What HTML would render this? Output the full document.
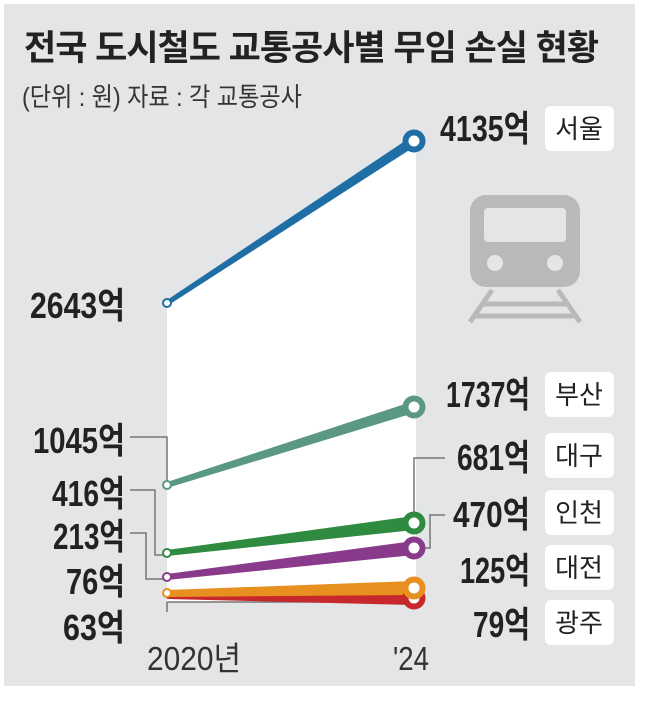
<!DOCTYPE html>
<html><head><meta charset="utf-8"><style>
body{margin:0;background:#fff;}
svg{display:block;}
text{font-family:"Liberation Sans","Noto Sans CJK KR",sans-serif;fill:#222;}
.n{font-size:36px;font-weight:bold;}
.t{font-size:26px;}
</style></head><body>
<svg width="650" height="704" viewBox="0 0 650 704" xmlns="http://www.w3.org/2000/svg">
<rect x="4" y="4" width="631" height="682" fill="#e4e5e7"/>
<polygon points="167,303 414,141 416,141 416,602 167,602" fill="#fff"/>
<text x="24" y="60" style="font-size:35px;font-weight:bold;letter-spacing:-1px">전국 도시철도 교통공사별 무임 손실 현황</text>
<text x="22" y="106" textLength="280" lengthAdjust="spacingAndGlyphs" style="font-size:26px;fill:#333">(단위 : 원)  자료 : 각 교통공사</text>
<g fill="#b9b9bb">
<rect x="470" y="195" width="110" height="92" rx="16"/>
</g>
<rect x="484" y="208" width="82" height="34" rx="4" fill="#e4e5e7"/>
<circle cx="495" cy="263" r="8" fill="#e4e5e7"/>
<circle cx="555" cy="263" r="8" fill="#e4e5e7"/>
<g stroke="#b9b9bb" stroke-width="5" fill="none">
<line x1="492" y1="290" x2="470" y2="322"/>
<line x1="558" y1="290" x2="580" y2="322"/>
<line x1="482" y1="304" x2="568" y2="304"/>
<line x1="475" y1="316" x2="575" y2="316"/>
</g>
<g stroke="#777" stroke-width="1.5" fill="none">
<polyline points="130,437 167,437 167,485"/>
<polyline points="130,490 155,490 155,555 167,555"/>
<polyline points="130,533 146,533 146,579 167,579"/>
<polyline points="414,523 414,458 445,458"/>
<polyline points="414,548 430,548 430,515 445,515"/>
<line x1="167" y1="602" x2="414" y2="602"/>
<line x1="167" y1="602" x2="167" y2="612"/>
</g>
<polygon points="167,300 167,306 414,147 414,135" fill="#1f6ea6"/>
<polygon points="167,482 167,488 414,413 414,401" fill="#5a9884"/>
<polygon points="167,550 167,556 414,530 414,516" fill="#2f8b3f"/>
<polygon points="167,574 167,580 414,555 414,541" fill="#8a3a8a"/>
<polygon points="167,593 167,599 414,605 414,591" fill="#c6282b"/>
<polygon points="167,590 167,597 414,595 414,581" fill="#e8901f"/>
<g fill="#fff" stroke-width="2">
<circle cx="167" cy="303" r="4" stroke="#1f6ea6"/>
<circle cx="167" cy="485" r="4" stroke="#5a9884"/>
<circle cx="167" cy="553" r="4" stroke="#2f8b3f"/>
<circle cx="167" cy="577" r="4" stroke="#8a3a8a"/>
<circle cx="167" cy="593" r="4" stroke="#e8901f"/>
</g>
<g fill="#fff" stroke-width="6">
<circle cx="414" cy="141" r="8.5" stroke="#1f6ea6"/>
<circle cx="414" cy="407" r="8.5" stroke="#5a9884"/>
<circle cx="414" cy="598" r="8.5" stroke="#c6282b"/>
<circle cx="414" cy="588" r="8.5" stroke="#e8901f"/>
<circle cx="414" cy="523" r="8.5" stroke="#2f8b3f"/>
<circle cx="414" cy="548" r="8.5" stroke="#8a3a8a"/>
</g>
<g class="n">
<text x="30" y="318" textLength="95" lengthAdjust="spacingAndGlyphs">2643억</text>
<text x="33" y="453" textLength="92" lengthAdjust="spacingAndGlyphs">1045억</text>
<text x="52" y="506" textLength="73" lengthAdjust="spacingAndGlyphs">416억</text>
<text x="53" y="549" textLength="72" lengthAdjust="spacingAndGlyphs">213억</text>
<text x="66" y="594" textLength="59" lengthAdjust="spacingAndGlyphs">76억</text>
<text x="63" y="640" textLength="62" lengthAdjust="spacingAndGlyphs">63억</text>
<text x="440" y="141" textLength="90" lengthAdjust="spacingAndGlyphs">4135억</text>
<text x="446" y="407" textLength="84" lengthAdjust="spacingAndGlyphs">1737억</text>
<text x="457" y="470" textLength="73" lengthAdjust="spacingAndGlyphs">681억</text>
<text x="453" y="527" textLength="77" lengthAdjust="spacingAndGlyphs">470억</text>
<text x="460" y="583" textLength="70" lengthAdjust="spacingAndGlyphs">125억</text>
<text x="473" y="637" textLength="57" lengthAdjust="spacingAndGlyphs">79억</text>
</g>
<g fill="#fff">
<rect x="545" y="106" width="69" height="45" rx="6"/>
<rect x="545" y="372" width="69" height="45" rx="6"/>
<rect x="545" y="433" width="69" height="45" rx="6"/>
<rect x="545" y="490" width="69" height="45" rx="6"/>
<rect x="545" y="545" width="69" height="45" rx="6"/>
<rect x="545" y="600" width="69" height="45" rx="6"/>
</g>
<g class="t" text-anchor="middle">
<text x="579" y="138">서울</text>
<text x="579" y="404">부산</text>
<text x="579" y="465">대구</text>
<text x="579" y="522">인천</text>
<text x="579" y="577">대전</text>
<text x="579" y="632">광주</text>
</g>
<text x="147" y="670" textLength="94" lengthAdjust="spacingAndGlyphs" style="font-size:33px;fill:#333">2020년</text>
<text x="393" y="670" textLength="36" lengthAdjust="spacingAndGlyphs" style="font-size:33px;fill:#333">'24</text>
</svg>
</body></html>
